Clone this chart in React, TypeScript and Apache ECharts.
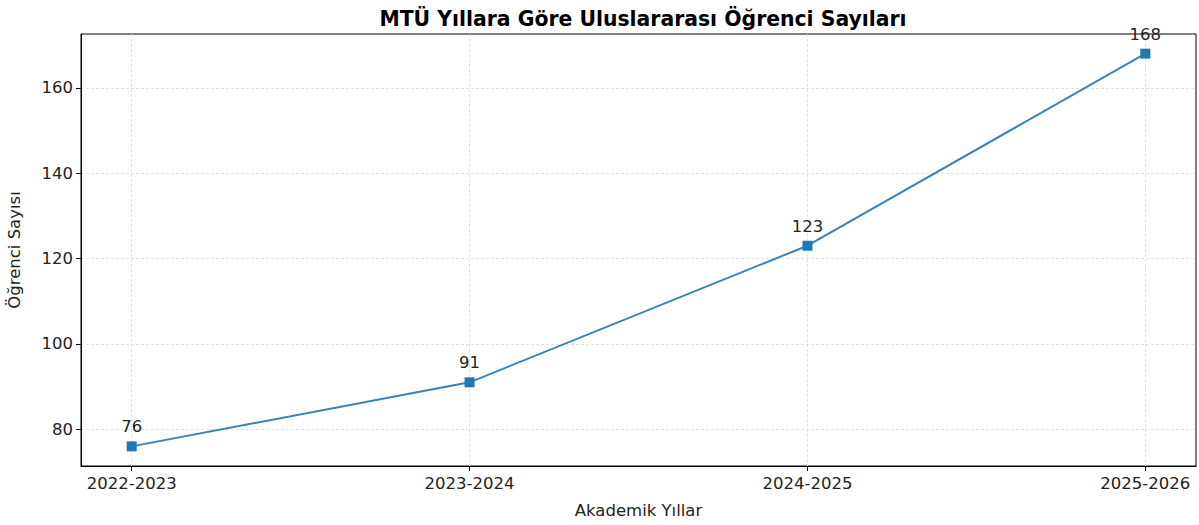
import React, { useEffect, useRef } from "react";
import * as echarts from "echarts";

const years = ["2022-2023", "2023-2024", "2024-2025", "2025-2026"];
const students = [76, 91, 123, 168];
const yTicks = [80, 100, 120, 140, 160];

export default function App() {
  const ref = useRef<HTMLDivElement>(null);
  useEffect(() => {
    const chart = echarts.init(ref.current!, null, { renderer: "svg" });
    const font = "DejaVu Sans";
    const fs = 16.5;
    const xIdx = years.map((_, i) => i);
    chart.setOption({
      animation: false,
      backgroundColor: "#fff",
      textStyle: { fontFamily: font },
      title: {
        text: "MTÜ Yıllara Göre Uluslararası Öğrenci Sayıları",
        left: 638,
        textAlign: "center",
        top: 4,
        textStyle: { fontFamily: font, fontWeight: "bold", fontSize: 20.4, color: "#000" },
      },
      grid: {
        left: 81,
        right: 3,
        top: 34,
        bottom: 59,
        outerBoundsMode: "none",
        containLabel: false,
        show: true,
        borderColor: "#000",
        borderWidth: 1,
        backgroundColor: "transparent",
      },
      xAxis: {
        type: "value",
        min: -0.15,
        max: 3.15,
        name: "Akademik Yıllar",
        nameLocation: "middle",
        nameGap: 36,
        nameTextStyle: { fontFamily: font, fontSize: fs, color: "#222" },
        axisLine: { show: true, onZero: false, lineStyle: { color: "#000", width: 1 } },
        axisTick: { show: true, customValues: xIdx, length: 5, lineStyle: { color: "#000" } },
        axisLabel: {
          customValues: xIdx,
          formatter: (v: number) => years[Math.round(v)] ?? "",
          fontFamily: font,
          fontSize: fs,
          color: "#222",
          margin: 9,
        },
        splitLine: {
          show: true,
          lineStyle: { color: "#d9d9d9", type: [3, 2], width: 0.8 },
        },
      },
      yAxis: {
        type: "value",
        min: 71.4,
        max: 172.6,
        name: "Öğrenci Sayısı",
        nameLocation: "middle",
        nameGap: 58,
        nameRotate: 90,
        nameTextStyle: { fontFamily: font, fontSize: fs, color: "#222" },
        axisLine: { show: true, onZero: false, lineStyle: { color: "#000", width: 1 } },
        axisTick: { show: true, customValues: yTicks, length: 5, lineStyle: { color: "#000" } },
        axisLabel: {
          customValues: yTicks,
          fontFamily: font,
          fontSize: fs,
          color: "#222",
          margin: 8,
        },
        splitLine: {
          show: true,
          lineStyle: { color: "#d9d9d9", type: [3, 2], width: 0.8 },
        },
      },
      series: [
        {
          type: "line",
          data: students.map((v, i) => [i, v]),
          symbol: "rect",
          symbolSize: 10,
          lineStyle: { color: "#1f77b4", width: 2, opacity: 0.9 },
          itemStyle: { color: "#1f77b4", opacity: 1 },
          label: {
            show: true,
            position: "top",
            distance: 6,
            formatter: (p: any) => String(p.value[1]),
            fontFamily: font,
            fontSize: fs,
            color: "#222",
          },
          z: 5,
        },
      ],
    });
    return () => chart.dispose();
  }, []);
  return <div ref={ref} style={{ position: "fixed", left: 0, top: 0, width: 1199, height: 525 }} />;
}
